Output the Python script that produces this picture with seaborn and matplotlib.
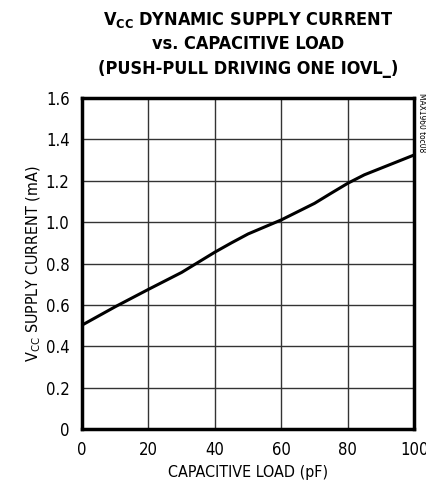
import matplotlib
matplotlib.use("Agg")
import seaborn as sns
import pandas as pd
from matplotlib import pyplot as plt

# values
load_pf = [0, 10, 20, 30, 40, 45, 50, 60, 70, 75, 80, 85, 90, 100]
supply_ma = [0.502, 0.591, 0.675, 0.757, 0.855, 0.900, 0.943, 1.011, 1.091, 1.140, 1.188, 1.229, 1.261, 1.325]
x_ticks = [0, 20, 40, 60, 80, 100]
y_ticks = [0, 0.2, 0.4, 0.6, 0.8, 1.0, 1.2, 1.4, 1.6]
y_labels = ["0", "0.2", "0.4", "0.6", "0.8", "1.0", "1.2", "1.4", "1.6"]

sns.set_style("white")
plt.rcParams['font.family'] = ['DejaVu Sans']
plt.rcParams['font.stretch'] = 'condensed'
plt.rcParams['mathtext.fontset'] = 'custom'
plt.rcParams['mathtext.rm'] = 'DejaVu Sans'
plt.rcParams['mathtext.bf'] = 'DejaVu Sans:bold'
plt.rcParams['text.color'] = 'black'
plt.rcParams['axes.labelcolor'] = 'black'

df = pd.DataFrame({'load': load_pf, 'current': supply_ma})

fig = plt.figure(figsize=(4.27, 4.88), dpi=100)
ax = fig.add_axes([0.192, 0.121, 0.778, 0.678])

sns.lineplot(data=df, x='load', y='current', ax=ax, color='black', linewidth=2.2)

ax.set_xlim(0, 100)
ax.set_ylim(0, 1.6)
ax.set_xticks(x_ticks)
ax.set_yticks(y_ticks)
ax.set_yticklabels(y_labels)
ax.tick_params(length=0, labelsize=12, colors='black')
ax.tick_params(axis='y', pad=9)
ax.tick_params(axis='x', pad=9)
ax.grid(True, color='#333333', linewidth=1)
for s in ax.spines.values():
    s.set_linewidth(2.5)
    s.set_color('black')

ax.set_xlabel("CAPACITIVE LOAD (pF)", fontsize=11.5, labelpad=4)
ax.set_ylabel(r"V$_{\mathrm{CC}}$ SUPPLY CURRENT (mA)", fontsize=11.5, labelpad=2)

fig.text(0.581, 0.958, r"V$_{\mathbf{CC}}$ DYNAMIC SUPPLY CURRENT", ha='center', va='center',
         fontsize=13, fontweight='bold')
fig.text(0.581, 0.909, "vs. CAPACITIVE LOAD", ha='center', va='center',
         fontsize=13, fontweight='bold')
fig.text(0.581, 0.858, "(PUSH-PULL DRIVING ONE IOVL_)", ha='center', va='center',
         fontsize=13, fontweight='bold')
fig.text(0.988, 0.81, "MAX1960 toc08", rotation=270, ha='center', va='top', fontsize=6)

fig.savefig("out.png", dpi=100)
